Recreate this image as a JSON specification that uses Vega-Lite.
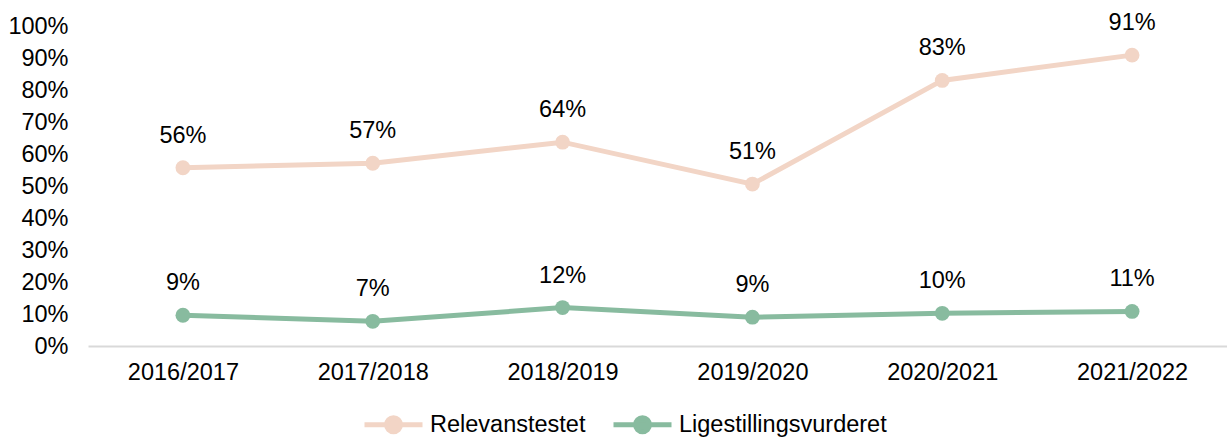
{
  "$schema": "https://vega.github.io/schema/vega-lite/v6.json",
  "autosize": {"type": "none"},
  "width": 1139,
  "height": 320,
  "padding": {"left": 88, "top": 26, "right": 0, "bottom": 91},
  "background": "white",
  "config": {
    "font": "Liberation Sans",
    "view": {"stroke": null},
    "axis": {"labelFont": "Liberation Sans", "labelFontSize": 23.5, "labelColor": "#000000", "grid": false, "ticks": false},
    "legend": {"labelFont": "Liberation Sans", "labelFontSize": 23.5, "labelColor": "#000000", "labelLimit": 0}
  },
  "data": {
    "values": [
      {"year": "2016/2017", "series": "Relevanstestet", "value": 0.557, "label": "56%"},
      {"year": "2017/2018", "series": "Relevanstestet", "value": 0.571, "label": "57%"},
      {"year": "2018/2019", "series": "Relevanstestet", "value": 0.637, "label": "64%"},
      {"year": "2019/2020", "series": "Relevanstestet", "value": 0.506, "label": "51%"},
      {"year": "2020/2021", "series": "Relevanstestet", "value": 0.830, "label": "83%"},
      {"year": "2021/2022", "series": "Relevanstestet", "value": 0.909, "label": "91%"},
      {"year": "2016/2017", "series": "Ligestillingsvurderet", "value": 0.096, "label": "9%"},
      {"year": "2017/2018", "series": "Ligestillingsvurderet", "value": 0.077, "label": "7%"},
      {"year": "2018/2019", "series": "Ligestillingsvurderet", "value": 0.120, "label": "12%"},
      {"year": "2019/2020", "series": "Ligestillingsvurderet", "value": 0.090, "label": "9%"},
      {"year": "2020/2021", "series": "Ligestillingsvurderet", "value": 0.102, "label": "10%"},
      {"year": "2021/2022", "series": "Ligestillingsvurderet", "value": 0.108, "label": "11%"}
    ]
  },
  "encoding": {
    "x": {
      "field": "year", "type": "ordinal", "sort": null,
      "scale": {"type": "point", "padding": 0.5},
      "axis": {"title": null, "labelAngle": 0, "domainColor": "#d9d9d9", "domainWidth": 2, "labelPadding": 14}
    },
    "y": {
      "field": "value", "type": "quantitative",
      "scale": {"domain": [0, 1], "nice": false, "zero": true},
      "axis": {"title": null, "format": ".0%", "values": [0,0.1,0.2,0.3,0.4,0.5,0.6,0.7,0.8,0.9,1], "domain": false, "labelPadding": 20}
    },
    "color": {
      "field": "series", "type": "nominal",
      "scale": {"domain": ["Relevanstestet", "Ligestillingsvurderet"], "range": ["#F2D5C6", "#88BB9F"]},
      "legend": {
        "title": null, "orient": "none", "direction": "horizontal",
        "legendX": 274, "legendY": 367,
        "symbolType": "M-1,0H1M-0.24,0A0.24,0.24 0 1,1 0.24,0A0.24,0.24 0 1,1 -0.24,0Z",
        "symbolSize": 3364, "symbolStrokeWidth": 5, "labelOffset": 5, "columnPadding": 17, "labelLimit": 0,
        "encode": {"symbols": {"update": {"fill": {"scale": "color", "field": "value"}, "stroke": {"scale": "color", "field": "value"}, "opacity": {"value": 1}}}}
      }
    }
  },
  "layer": [
    {"mark": {"type": "line", "strokeWidth": 5}},
    {"mark": {"type": "point", "filled": true, "size": 220, "opacity": 1}},
    {
      "mark": {"type": "text", "fontSize": 23.5, "dy": -32, "baseline": "middle", "color": "#000000"},
      "encoding": {"text": {"field": "label"}, "color": {"value": "#000000"}}
    }
  ]
}
